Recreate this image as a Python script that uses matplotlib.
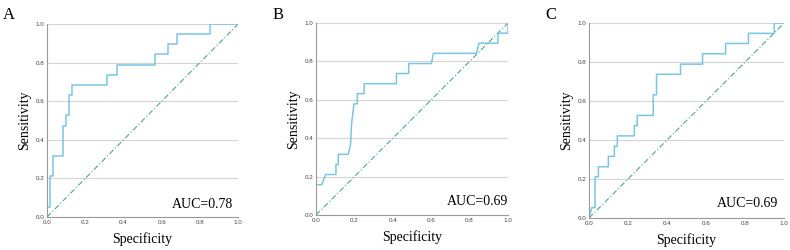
import numpy as np
import matplotlib.pyplot as plt

# step points (x = 1 - specificity, y = sensitivity)
a_x = [0.0, 0.0, 0.014, 0.014, 0.03, 0.03, 0.082, 0.082, 0.097, 0.097, 0.113, 0.113,
       0.13, 0.13, 0.313, 0.313, 0.365, 0.365, 0.567, 0.567, 0.633, 0.633, 0.682, 0.682,
       0.852, 0.852, 1.0]
a_y = [0.0, 0.053, 0.053, 0.211, 0.211, 0.316, 0.316, 0.474, 0.474, 0.526, 0.526, 0.632,
       0.632, 0.684, 0.684, 0.737, 0.737, 0.789, 0.789, 0.842, 0.842, 0.895, 0.895, 0.947,
       0.947, 1.0, 1.0]

b_x = [0.0, 0.0, 0.03, 0.05, 0.104, 0.104, 0.116, 0.116, 0.168, 0.18, 0.185, 0.198,
       0.215, 0.215, 0.251, 0.251, 0.419, 0.419, 0.483, 0.483, 0.601, 0.612, 0.835, 0.85,
       0.948, 0.948, 1.0, 1.0]
b_y = [0.0, 0.158, 0.158, 0.211, 0.211, 0.263, 0.263, 0.316, 0.316, 0.368, 0.474, 0.579,
       0.579, 0.632, 0.632, 0.684, 0.684, 0.737, 0.737, 0.789, 0.789, 0.842, 0.842, 0.895,
       0.895, 0.947, 0.947, 1.0]

c_x = [0.0, 0.014, 0.031, 0.031, 0.048, 0.048, 0.099, 0.099, 0.13, 0.13, 0.145, 0.145,
       0.232, 0.232, 0.247, 0.247, 0.329, 0.329, 0.346, 0.346, 0.469, 0.469, 0.582, 0.582,
       0.70, 0.70, 0.817, 0.817, 0.949, 0.949, 1.0]
c_y = [0.0, 0.053, 0.053, 0.211, 0.211, 0.263, 0.263, 0.316, 0.316, 0.368, 0.368, 0.421,
       0.421, 0.474, 0.474, 0.526, 0.526, 0.632, 0.632, 0.737, 0.737, 0.789, 0.789, 0.842,
       0.842, 0.895, 0.895, 0.947, 0.947, 1.0, 1.0]

panels = ['A', 'B', 'C']
aucs = ['AUC=0.78', 'AUC=0.69', 'AUC=0.69']
curves = [(a_x, a_y), (b_x, b_y), (c_x, c_y)]
ticks = [0.0, 0.2, 0.4, 0.6, 0.8, 1.0]

plt.rcParams['font.family'] = ['Liberation Serif', 'DejaVu Serif']

fig = plt.figure(figsize=(7.9, 2.5), dpi=100)
boxes = [[0.0595, 0.132, 0.242, 0.772],
         [0.400, 0.140, 0.243, 0.768],
         [0.7456, 0.128, 0.247, 0.780]]
letter_x = [0.003, 0.345, 0.690]
auc_pos = [(0.975, 0.066), (1.0, 0.07), (0.97, 0.075)]

for i in range(3):
    ax = fig.add_axes(boxes[i])
    xs, ys = curves[i]
    ax.plot([0, 1], [0, 1], color='#4ea597', lw=0.8, dashes=(5, 2, 1, 2))
    ax.plot(xs, ys, color='#79c6e3', lw=1.1)
    ax.set_xlim(0, 1)
    ax.set_ylim(0, 1)
    ax.set_xticks(ticks)
    ax.set_yticks(ticks)
    ax.set_xticklabels(['%.1f' % t for t in ticks], fontfamily='Liberation Sans', fontsize=4.5, color='#444444')
    ax.set_yticklabels(['%.1f' % t for t in ticks], fontfamily='Liberation Sans', fontsize=4.5, color='#444444')
    ax.tick_params(length=0, pad=2)
    ax.yaxis.grid(True, color='#d4d4d4', lw=0.8)
    ax.set_axisbelow(True)
    for s in ['top', 'right']:
        ax.spines[s].set_visible(False)
    for s in ['left', 'bottom']:
        ax.spines[s].set_color('#999999')
        ax.spines[s].set_linewidth(0.8)
    ax.set_xlabel('Specificity', fontsize=10, labelpad=5)
    ax.set_ylabel('Sensitivity', fontsize=10, labelpad=3)
    ax.text(auc_pos[i][0], auc_pos[i][1], aucs[i], fontsize=10, ha='right', va='center',
            transform=ax.transData)
    fig.text(letter_x[i], 0.94, panels[i], fontsize=12, ha='left', va='center')

fig.savefig('out.png', dpi=100)
